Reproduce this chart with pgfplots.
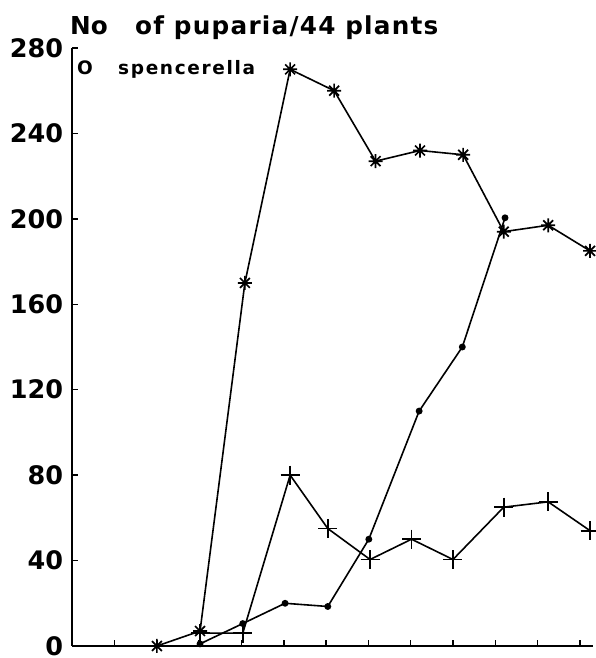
\documentclass[border=0pt]{standalone}
\usepackage{pgfplots}
\pgfplotsset{compat=1.18}
\usepackage{fontspec}
\setmainfont{DejaVu Sans}
\pgfdeclareplotmark{star8}{%
  \pgfpathmoveto{\pgfqpoint{-\pgfplotmarksize}{0pt}}\pgfpathlineto{\pgfqpoint{\pgfplotmarksize}{0pt}}%
  \pgfpathmoveto{\pgfqpoint{0pt}{-\pgfplotmarksize}}\pgfpathlineto{\pgfqpoint{0pt}{\pgfplotmarksize}}%
  \pgfpathmoveto{\pgfqpoint{-0.707\pgfplotmarksize}{-0.707\pgfplotmarksize}}\pgfpathlineto{\pgfqpoint{0.707\pgfplotmarksize}{0.707\pgfplotmarksize}}%
  \pgfpathmoveto{\pgfqpoint{-0.707\pgfplotmarksize}{0.707\pgfplotmarksize}}\pgfpathlineto{\pgfqpoint{0.707\pgfplotmarksize}{-0.707\pgfplotmarksize}}%
  \pgfusepathqstroke}
\begin{document}
\begin{tikzpicture}
\useasboundingbox (0pt,0pt) rectangle (595pt,658pt);
\begin{axis}[
  at={(72.3pt,12pt)}, anchor=south west,
  scale only axis, width=520.7pt, height=598pt,
  xmin=0, xmax=12.31, ymin=0, ymax=280,
  axis x line*=bottom, axis y line*=left,
  axis line style={line width=1.8pt},
  tick align=inside, major tick length=6pt,
  every tick/.style={line width=1.5pt, black},
  xtick={0,1,...,12}, xticklabels={},
  ytick={0,40,...,280},
  /pgf/number format/assume math mode=true,
  yticklabel style={font=\fontsize{25.5}{26}\selectfont\bfseries, anchor=east, inner sep=0pt, xshift=-9pt},
  clip=false,
]
\addplot[black, line width=1.6pt, mark=star8, mark size=7pt, mark options={line width=1.7pt}] coordinates {
(2.0,0) (3.02,7) (4.08,170) (5.15,270) (6.19,260) (7.17,227) (8.22,232) (9.24,230) (10.2,194) (11.25,197) (12.24,185)
};
\addplot[black, line width=1.6pt, mark=*, mark size=2.6pt] coordinates {
(3.02,1) (4.03,10.5) (5.03,20) (6.04,18.5) (7.01,50) (8.2,110) (9.22,140) (10.23,200.5)
};
\addplot[black, line width=1.6pt, mark=+, mark size=9.5pt, mark options={line width=1.7pt}] coordinates {
(3.02,6) (4.03,6) (5.15,80) (6.04,55) (7.04,40.5) (8.02,50) (9.0,40.5) (10.2,65) (11.25,67.5) (12.24,54)
};
\end{axis}
\node[anchor=base west, inner sep=0pt, font=\fontsize{24.7}{26}\selectfont\bfseries] at (70pt,623pt) {No};
\node[anchor=base west, inner sep=0pt, font=\fontsize{24.7}{26}\selectfont\bfseries\addfontfeature{LetterSpace=5}] at (135pt,623pt) {of puparia/44 plants};
\node[anchor=base west, inner sep=0pt, font=\fontsize{18.5}{20}\selectfont\bfseries] at (77pt,583pt) {O};
\node[anchor=base west, inner sep=0pt, font=\fontsize{18.5}{20}\selectfont\bfseries\addfontfeature{LetterSpace=9}] at (118pt,583pt) {spencerella};
\end{tikzpicture}
\end{document}
